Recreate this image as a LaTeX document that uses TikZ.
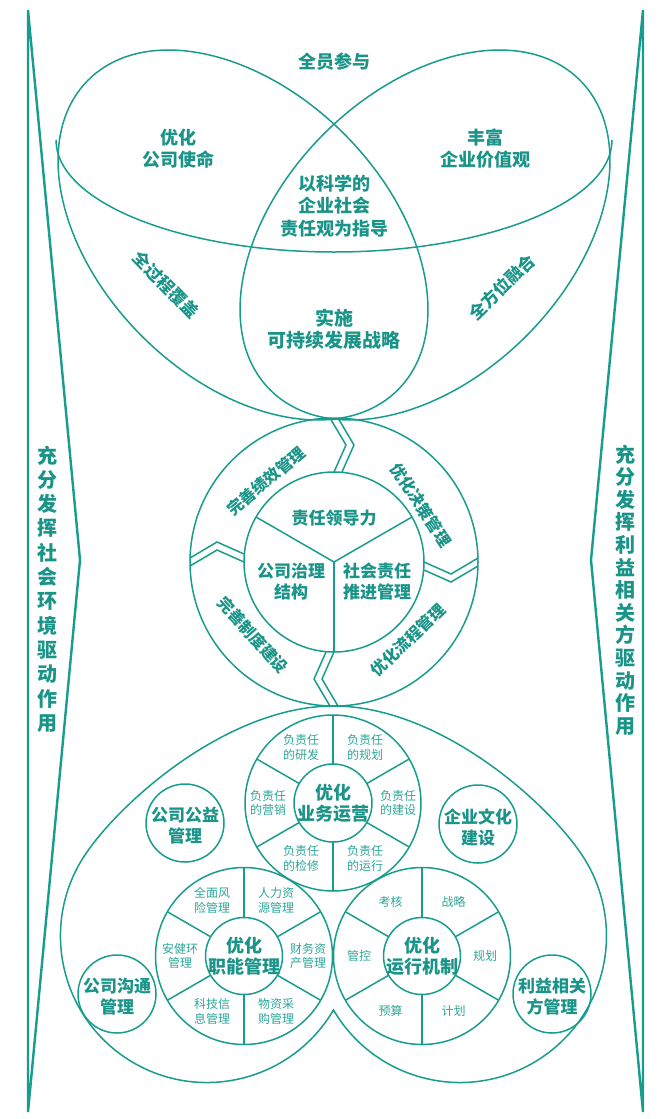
\documentclass[tikz,border=0pt]{standalone}
\usepackage{fontspec}
\newfontfamily\cjk{Noto Sans CJK SC}
\usetikzlibrary{calc}
\definecolor{tl}{RGB}{24,156,142}
\definecolor{tltext}{RGB}{26,148,136}
\definecolor{tlsmall}{RGB}{45,165,152}
\tikzset{
  ln/.style={draw=tl, line width=1.5pt},
  sidearrow/.style={draw=tl, line width=2.4pt, line join=miter},
  bigtxt/.style={text=tltext, font=\cjk\bfseries\fontsize{18}{22}\selectfont, align=center, inner sep=0pt},
  midtxt/.style={text=tltext, font=\cjk\bfseries\fontsize{17}{21}\selectfont, align=center, inner sep=0pt},
  ringtxt/.style={text=tltext, font=\cjk\bfseries\fontsize{16}{20}\selectfont, inner sep=0pt},
  smltxt/.style={text=tlsmall, font=\cjk\fontsize{12}{14.5}\selectfont, align=center, inner sep=0pt},
  sidetxt/.style={text=tltext, font=\cjk\bfseries\fontsize{20}{24.3}\selectfont, align=center, inner sep=0pt},
}
\begin{document}
\begin{tikzpicture}[x=1pt,y=1pt]
\useasboundingbox (0,0) rectangle (659,-1119);

% ---------- side arrows ----------
\draw[sidearrow] (28,-10) -- (80,-560) -- (28,-1112) -- cycle;
\draw[sidearrow] (643,-10) -- (591,-560) -- (643,-1112) -- cycle;
\node[sidetxt] (lside) at (47,-589) {充\\分\\发\\挥\\社\\会\\环\\境\\驱\\动\\作\\用};
\node[sidetxt, font=\cjk\bfseries\fontsize{20}{22.6}\selectfont] (rside) at (625,-590) {充\\分\\发\\挥\\利\\益\\相\\关\\方\\驱\\动\\作\\用};

% ---------- top Venn ----------
\coordinate (EL) at (243,-235);
\coordinate (ER) at (425,-235);
\draw[ln, rotate around={-45:(EL)}] (EL) ellipse [x radius=219, y radius=143];
\draw[ln, rotate around={45:(ER)}] (ER) ellipse [x radius=219, y radius=143];
\draw[ln] (56,-140) arc[start angle=180, end angle=360, x radius=278, y radius=112];

\node[bigtxt] (all) at (334,-62) {全员参与};
\node[bigtxt] (mission) at (178,-149) {优化\\公司使命};
\node[bigtxt] (values) at (485,-149) {丰富\\企业价值观};
\node[bigtxt, font=\cjk\bfseries\fontsize{18}{22.5}\selectfont] (guide) at (334,-206) {以科学的\\企业社会\\责任观为指导};
\node[bigtxt, font=\cjk\bfseries\fontsize{19}{22}\selectfont] (strategy) at (334,-329) {实施\\可持续发展战略};
\node[bigtxt, font=\cjk\bfseries\fontsize{17}{20}\selectfont, rotate=-46] (process) at (166,-285) {全过程覆盖};
\node[bigtxt, font=\cjk\bfseries\fontsize{17}{20}\selectfont, rotate=44] (fusion) at (502,-287) {全方位融合};

% ---------- middle ring ----------
\coordinate (C) at (334,-562);
\draw[ln] (C) circle (144);
\draw[ln] (C) circle (90);
\foreach \a in {30,150,270} \draw[ln] (C) -- ($(C)+(\a:90)$);
\foreach \p in {90,0,270,180} {
  \begin{scope}[shift={(C)}, rotate=\p-90]
    \draw[ln, line join=miter] (0,90) -- (12,117) -- (-4,144);
    \draw[ln, line join=miter] (8,90) -- (20,117) -- (4,144);
  \end{scope}
}
\node[midtxt] (lead) at (334,-518) {责任领导力};
\node[midtxt] (gov) at (291,-582) {公司治理\\结构};
\node[midtxt] (push) at (377,-582) {社会责任\\推进管理};
\node[ringtxt, rotate=40] (perf) at (266,-481) {完善绩效管理};
\node[ringtxt, rotate=-57] (decide) at (421,-505) {优化决策管理};
\node[ringtxt, rotate=44] (flow) at (408,-640) {优化流程管理};
\node[ringtxt, rotate=-48] (rules) at (253,-635) {完善制度建设};

% ---------- lower heart ----------
\draw[ln] (333.5,-706) .. controls (223,-706) and (110,-811) .. (80.1,-862.75)
  arc[start angle=150, end angle=329.7, radius=146.5]
  arc[start angle=210.3, end angle=390, radius=146.5]
  .. controls (556.9,-811) and (444,-706) .. (333.5,-706);

% middle wheel
\coordinate (M) at (333,-803);
\draw[ln] (M) circle (88);
\draw[ln] (M) circle (39);
\foreach \a in {30,90,...,330} \draw[ln] ($(M)+(\a:39)$) -- ($(M)+(\a:88)$);
\node[midtxt, font=\cjk\bfseries\fontsize{18}{21}\selectfont] (biz) at (M) {优化\\业务运营};
\node[smltxt] (m1) at ($(M)+(60:64)$) {负责任\\的规划};
\node[smltxt] (m2) at ($(M)+(120:64)$) {负责任\\的研发};
\node[smltxt] (m3) at ($(M)+(180:65)$) {负责任\\的营销};
\node[smltxt] (m4) at ($(M)+(0:65)$) {负责任\\的建设};
\node[smltxt] (m5) at ($(M)+(240:64)$) {负责任\\的检修};
\node[smltxt] (m6) at ($(M)+(300:64)$) {负责任\\的运行};

% left wheel
\coordinate (F) at (244,-956);
\draw[ln] (F) circle (88.5);
\draw[ln] (F) circle (38.5);
\foreach \a in {30,90,...,330} \draw[ln] ($(F)+(\a:38.5)$) -- ($(F)+(\a:88.5)$);
\node[midtxt, font=\cjk\bfseries\fontsize{18}{21}\selectfont] (func) at (F) {优化\\职能管理};
\node[smltxt] (f1) at ($(F)+(60:64)$) {人力资\\源管理};
\node[smltxt] (f2) at ($(F)+(120:64)$) {全面风\\险管理};
\node[smltxt] (f3) at ($(F)+(180:64)$) {安健环\\管理};
\node[smltxt] (f4) at ($(F)+(0:64)$) {财务资\\产管理};
\node[smltxt] (f5) at ($(F)+(240:64)$) {科技信\\息管理};
\node[smltxt] (f6) at ($(F)+(300:64)$) {物资采\\购管理};

% right wheel
\coordinate (O) at (422,-956);
\draw[ln] (O) circle (88.5);
\draw[ln] (O) circle (38.5);
\foreach \a in {30,90,...,330} \draw[ln] ($(O)+(\a:38.5)$) -- ($(O)+(\a:88.5)$);
\node[midtxt, font=\cjk\bfseries\fontsize{18}{21}\selectfont] (mech) at (O) {优化\\运行机制};
\node[smltxt] (o1) at ($(O)+(60:63)$) {战略};
\node[smltxt] (o2) at ($(O)+(120:63)$) {考核};
\node[smltxt] (o3) at ($(O)+(180:63)$) {管控};
\node[smltxt] (o4) at ($(O)+(0:63)$) {规划};
\node[smltxt] (o5) at ($(O)+(240:63)$) {预算};
\node[smltxt] (o6) at ($(O)+(300:63)$) {计划};

% small circles
\draw[ln] (185,-823) circle (39);
\node[midtxt] (pub) at (185,-826) {公司公益\\管理};
\draw[ln] (478,-824) circle (39);
\node[midtxt] (cult) at (478,-827) {企业文化\\建设};
\draw[ln] (117,-994) circle (39);
\node[midtxt] (comm) at (117,-997) {公司沟通\\管理};
\draw[ln] (552,-994) circle (39);
\node[midtxt] (stake) at (552,-997) {利益相关\\方管理};
\end{tikzpicture}
\end{document}
